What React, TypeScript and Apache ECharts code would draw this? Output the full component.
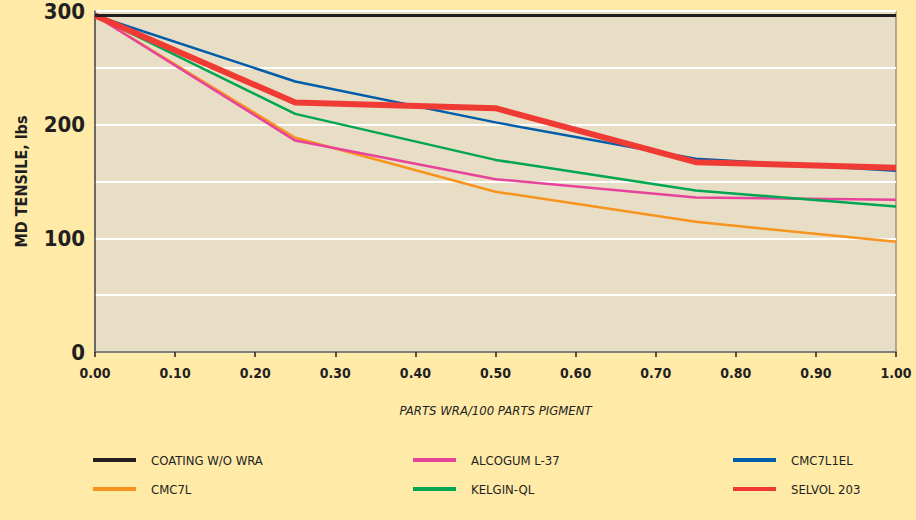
import React, { useEffect, useRef } from "react";
import * as echarts from "echarts";

const xValues = [0, 0.25, 0.5, 0.75, 1.0];
const seriesNames = ["COATING W/O WRA", "CMC7L", "ALCOGUM L-37", "KELGIN-QL", "CMC7L1EL", "SELVOL 203"];
const coating = [296, 296, 296, 296, 296];
const cmc7l = [296, 188.5, 141, 114.5, 97];
const alcogum = [296, 186, 152, 136, 134];
const kelgin = [296, 209.5, 169, 142, 128];
const cmc7l1el = [296, 238, 202, 170, 159.5];
const selvol = [296, 219.5, 214.5, 167, 162];
const yTickLabels = [0, 100, 200, 300];

const colors = ["#231f20", "#f7941d", "#e8439a", "#00a651", "#005daa", "#ef3b33"];
const widths = [3, 2.5, 2.5, 2.5, 2.5, 6];
const FONT = "'Liberation Sans Narrow', 'DejaVu Sans Condensed', 'Noto Sans', sans-serif";

export default function App() {
  const ref = useRef<HTMLDivElement>(null);
  useEffect(() => {
    if (!ref.current) return;
    const chart = echarts.init(ref.current, null, { renderer: "svg" });
    const data = [coating, cmc7l, alcogum, kelgin, cmc7l1el, selvol];
    const legendCommon = {
      orient: "vertical" as const,
      icon: "rect",
      itemWidth: 43,
      itemHeight: 4,
      itemGap: 15,
      padding: 0,
      top: 453,
      textStyle: { fontFamily: FONT, fontSize: 13, color: "#231f20", padding: [0, 0, 0, 10], lineHeight: 14 },
    };
    chart.setOption({
      animation: false,
      backgroundColor: "#ffeaa8",
      textStyle: { fontFamily: FONT },
      grid: {
        left: 95,
        right: 20,
        top: 11,
        bottom: 168,
        show: true,
        backgroundColor: "#e8ddc5",
        borderColor: "#6d6e71",
        borderWidth: 1,
      },
      legend: [
        { ...legendCommon, left: 93, data: [seriesNames[0], seriesNames[1]] },
        { ...legendCommon, left: 413, data: [seriesNames[2], seriesNames[3]] },
        { ...legendCommon, left: 733, data: [seriesNames[4], seriesNames[5]] },
      ],
      xAxis: {
        type: "value",
        min: 0,
        max: 1,
        interval: 0.1,
        name: "PARTS WRA/100 PARTS PIGMENT",
        nameLocation: "middle",
        nameGap: 52,
        nameTextStyle: { fontFamily: FONT, fontSize: 13, fontStyle: "italic", color: "#231f20" },
        axisLine: { lineStyle: { color: "#555", width: 1.5 } },
        axisTick: { show: true, length: 5, inside: false, lineStyle: { color: "#231f20", width: 1.5 } },
        axisLabel: {
          margin: 14,
          fontFamily: FONT,
          fontSize: 14,
          fontWeight: "bold",
          color: "#231f20",
          formatter: (v: number) => v.toFixed(2),
        },
        splitLine: { show: false },
      },
      yAxis: {
        type: "value",
        min: 0,
        max: 300,
        interval: 50,
        name: "MD TENSILE, lbs",
        nameLocation: "middle",
        nameGap: 66,
        nameRotate: 90,
        nameTextStyle: { fontFamily: FONT, fontSize: 16, fontWeight: "bold", color: "#231f20" },
        axisLine: { show: true, lineStyle: { color: "#555", width: 1.5 } },
        axisTick: { show: false },
        axisLabel: {
          margin: 10,
          fontFamily: FONT,
          fontSize: 22,
          fontWeight: "bold",
          color: "#231f20",
          formatter: (v: number) => (yTickLabels.indexOf(v) >= 0 ? String(v) : ""),
        },
        splitLine: { show: true, lineStyle: { color: "#ffffff", width: 2 } },
      },
      series: seriesNames.map((name, i) => ({
        name,
        type: "line",
        data: xValues.map((x, j) => [x, data[i][j]]),
        showSymbol: false,
        symbol: "none",
        color: colors[i],
        lineStyle: { color: colors[i], width: widths[i] },
        z: i === 0 ? 10 : 2 + i,
      })),
    });
    return () => chart.dispose();
  }, []);
  return <div ref={ref} style={{ position: "fixed", left: 0, top: 0, width: 916, height: 520 }} />;
}
